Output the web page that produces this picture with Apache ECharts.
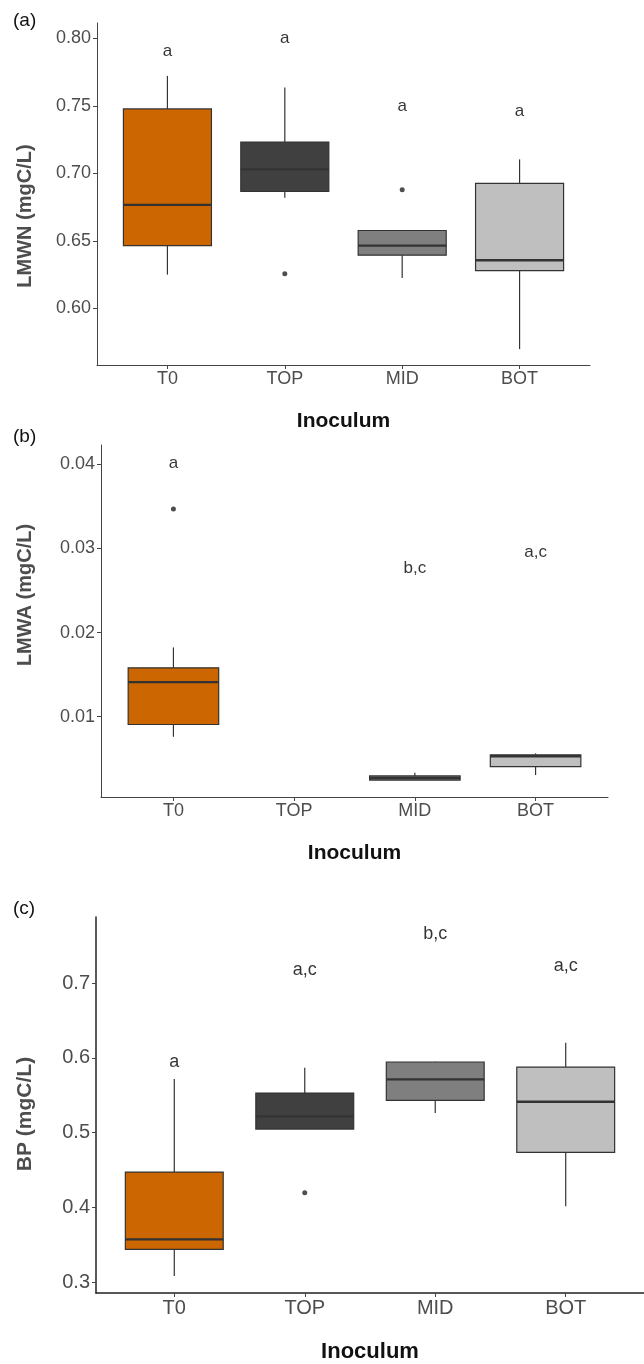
<!DOCTYPE html>
<html>
<head>
<meta charset="utf-8">
<script src="https://cdn.jsdelivr.net/npm/echarts@6/dist/echarts.min.js"></script>
<style>
html,body{margin:0;padding:0;background:#fff;}
#chart{width:644px;height:1364px;}
</style>
</head>
<body>
<div id="chart"></div>
<script>
// ---- data ----
const categories = ['T0', 'TOP', 'MID', 'BOT'];
const boxColors = ['#CC6600', '#404040', '#7F7F7F', '#BFBFBF'];

// [whiskerLow, Q1, median, Q3, whiskerHigh] per category (null = no data)
const lmwnBox = [
  [0.625, 0.6465, 0.6767, 0.7478, 0.7723],
  [0.682, 0.6866, 0.703, 0.7233, 0.7636],
  [0.6225, 0.6394, 0.6465, 0.6577, 0.6577],
  [0.5698, 0.628, 0.6356, 0.6926, 0.7104]
];
const lmwnOutliers = [[2, 0.6257], [3, 0.6879]];
const lmwnLetters = ['a', 'a', 'a', 'a'];
const lmwnLetterY = [0.7908, 0.80, 0.7495, 0.7463];
const lmwnTicks = [0.60, 0.65, 0.70, 0.75, 0.80];

const lmwaBox = [
  [0.00762, 0.00908, 0.01412, 0.01582, 0.01824],
  null,
  [0.00247, 0.00247, 0.00272, 0.00296, 0.00333],
  [0.00307, 0.00406, 0.00530, 0.00548, 0.00565]
];
const lmwaOutliers = [[1, 0.0347]];
const lmwaLetters = ['a', '', 'b,c', 'a,c'];
const lmwaLetterY = [0.0401, null, 0.0277, 0.0295];
const lmwaTicks = [0.01, 0.02, 0.03, 0.04];

const bpBox = [
  [0.308, 0.3436, 0.357, 0.4471, 0.5715],
  [0.5046, 0.5046, 0.5216, 0.5528, 0.5867],
  [0.526, 0.543, 0.5711, 0.5943, 0.5947],
  [0.4012, 0.4734, 0.5412, 0.5876, 0.6202]
];
const bpOutliers = [[2, 0.4194]];
const bpLetters = ['a', 'a,c', 'b,c', 'a,c'];
const bpLetterY = [0.5938, 0.717, 0.7651, 0.7227];
const bpTicks = [0.3, 0.4, 0.5, 0.6, 0.7];

// ---- panels ----
const panels = [
  {box: lmwnBox, out: lmwnOutliers, let: lmwnLetters, letY: lmwnLetterY, ticks: lmwnTicks, dec: 2,
   name: 'LMWN (mgC/L)', ymin: 0.558, ymax: 0.8115,
   grid: {left: 97, top: 23, width: 493, height: 342}, axisColor: '#444', axisW: 1,
   xGap: 46, tickFs: 18, titleFs: 21, letFs: 17, yTitleFs: 20, yTitleY: 216, tag: '(a)', tagY: 22},
  {box: lmwaBox, out: lmwaOutliers, let: lmwaLetters, letY: lmwaLetterY, ticks: lmwaTicks, dec: 2,
   name: 'LMWA (mgC/L)', ymin: 0.00046, ymax: 0.0423,
   grid: {left: 101, top: 445, width: 507, height: 352}, axisColor: '#444', axisW: 1,
   xGap: 46, tickFs: 18, titleFs: 21, letFs: 17, yTitleFs: 20, yTitleY: 595, tag: '(b)', tagY: 438},
  {box: bpBox, out: bpOutliers, let: bpLetters, letY: bpLetterY, ticks: bpTicks, dec: 1,
   name: 'BP (mgC/L)', ymin: 0.2853, ymax: 0.7883,
   grid: {left: 96, top: 917, width: 554, height: 376}, axisColor: '#222', axisW: 1.5,
   xGap: 48, tickFs: 20, titleFs: 22, letFs: 18, yTitleFs: 21, yTitleY: 1114, tag: '(c)', tagY: 910}
];

const grids = [], xAxes = [], yAxes = [], series = [], graphics = [];
const FONT = '"Liberation Sans", Arial, sans-serif';

panels.forEach(function (p, i) {
  grids.push(Object.assign({containLabel: false}, p.grid));
  xAxes.push({
    type: 'value', gridIndex: i, min: 0.4, max: 4.6,
    name: 'Inoculum', nameLocation: 'middle', nameGap: p.xGap,
    nameTextStyle: {fontFamily: FONT, fontWeight: 'bold', fontSize: p.titleFs, color: '#111'},
    axisLine: {show: true, lineStyle: {color: p.axisColor, width: p.axisW}},
    axisTick: {show: true, length: 4, customValues: [1, 2, 3, 4], lineStyle: {color: '#444'}},
    axisLabel: {customValues: [1, 2, 3, 4], margin: 5, fontFamily: FONT, fontSize: p.tickFs, color: '#4D4D4D',
      formatter: function (v) { return categories[Math.round(v) - 1] || ''; }},
    splitLine: {show: false}
  });
  yAxes.push({
    type: 'value', gridIndex: i, min: p.ymin, max: p.ymax,
    axisLine: {show: true, lineStyle: {color: p.axisColor, width: p.axisW}},
    axisTick: {show: true, length: 4, customValues: p.ticks, lineStyle: {color: '#444'}},
    axisLabel: {customValues: p.ticks, margin: 6, fontFamily: FONT, fontSize: p.tickFs, color: '#4D4D4D',
      formatter: function (v) { return v.toFixed(p.dec); }},
    splitLine: {show: false}
  });

  const boxData = [];
  p.box.forEach(function (b, k) {
    if (b) boxData.push({value: [k + 1].concat(b)});
  });
  series.push({
    type: 'custom', xAxisIndex: i, yAxisIndex: i,
    encode: {x: 0, y: [1, 2, 3, 4, 5]},
    data: boxData,
    renderItem: function (params, api) {
      const x = api.value(0);
      const lo = api.coord([x, api.value(1)]);
      const q1 = api.coord([x, api.value(2)]);
      const md = api.coord([x, api.value(3)]);
      const q3 = api.coord([x, api.value(4)]);
      const hi = api.coord([x, api.value(5)]);
      const w = api.size([0.75, 0])[0];
      const cx = lo[0];
      const fill = boxColors[x - 1];
      const ls = {stroke: '#333', lineWidth: 1.2};
      return {type: 'group', children: [
        {type: 'line', shape: {x1: cx, y1: q3[1], x2: cx, y2: hi[1]}, style: ls},
        {type: 'line', shape: {x1: cx, y1: q1[1], x2: cx, y2: lo[1]}, style: ls},
        {type: 'rect', shape: {x: cx - w / 2, y: q3[1], width: w, height: Math.max(q1[1] - q3[1], 1)},
          style: {fill: fill, stroke: '#333', lineWidth: 1.2}},
        {type: 'line', shape: {x1: cx - w / 2, y1: md[1], x2: cx + w / 2, y2: md[1]},
          style: {stroke: '#333', lineWidth: 2.4}}
      ]};
    },
    z: 2
  });
  series.push({
    type: 'scatter', xAxisIndex: i, yAxisIndex: i,
    symbol: 'circle', symbolSize: 5,
    itemStyle: {color: '#222'},
    data: p.out, z: 3
  });
  const letterData = [];
  p.let.forEach(function (t, k) {
    if (t) letterData.push({value: [k + 1, p.letY[k]], name: t});
  });
  series.push({
    type: 'scatter', xAxisIndex: i, yAxisIndex: i,
    symbolSize: 1, itemStyle: {color: 'rgba(0,0,0,0)'},
    label: {show: true, position: 'inside', formatter: '{b}', fontFamily: FONT, fontSize: p.letFs, color: '#000'},
    data: letterData, z: 4
  });
  graphics.push({
    type: 'text', left: 13, top: p.tagY - 11,
    style: {text: p.tag, font: '19px ' + FONT, fill: '#111'}
  });
  graphics.push({
    type: 'text', x: 25, y: p.yTitleY, rotation: Math.PI / 2,
    style: {text: p.name, font: 'bold ' + p.yTitleFs + 'px ' + FONT, fill: '#4D4D4D',
      align: 'center', verticalAlign: 'middle'}
  });
});

const chart = echarts.init(document.getElementById('chart'), null, {renderer: 'canvas'});
chart.setOption({
  animation: false,
  backgroundColor: '#fff',
  grid: grids, xAxis: xAxes, yAxis: yAxes, series: series, graphic: graphics
});
</script>
</body>
</html>
